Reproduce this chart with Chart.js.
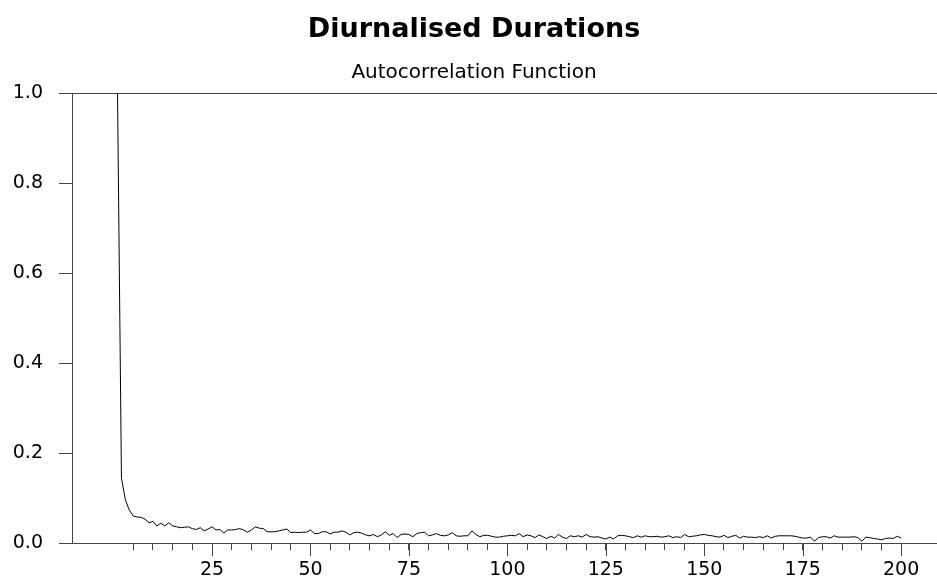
<!DOCTYPE html>
<html lang="en">
<head>
    <meta charset="UTF-8">
    <title>Diurnalised Durations</title>
    <script src="https://cdn.jsdelivr.net/npm/chart.js"></script>
    <style>
        body { margin: 0; background: #fff; }
        #wrap { width: 937px; height: 583px; }
    </style>
</head>
<body>
    <div id="wrap"><canvas id="chart"></canvas></div>

    <script>
        // autocorrelation by lag (lag 1 .. 200)
        var acf = [
            1.000, 0.144, 0.096, 0.073, 0.060, 0.058, 0.057, 0.053, 0.045, 0.048,
            0.038, 0.044, 0.038, 0.045, 0.038, 0.036, 0.034, 0.035, 0.036, 0.032,
            0.030, 0.034, 0.027, 0.031, 0.036, 0.029, 0.030, 0.022, 0.029, 0.029,
            0.030, 0.032, 0.029, 0.024, 0.029, 0.036, 0.033, 0.032, 0.025, 0.025,
            0.025, 0.027, 0.029, 0.031, 0.023, 0.024, 0.023, 0.024, 0.024, 0.029,
            0.021, 0.021, 0.025, 0.025, 0.020, 0.024, 0.024, 0.027, 0.024, 0.018,
            0.023, 0.024, 0.022, 0.018, 0.016, 0.019, 0.014, 0.018, 0.025, 0.017,
            0.021, 0.012, 0.019, 0.020, 0.019, 0.014, 0.021, 0.023, 0.024, 0.016,
            0.018, 0.021, 0.017, 0.016, 0.018, 0.023, 0.016, 0.015, 0.016, 0.016,
            0.027, 0.019, 0.014, 0.017, 0.017, 0.015, 0.013, 0.013, 0.015, 0.016,
            0.017, 0.016, 0.021, 0.014, 0.018, 0.016, 0.012, 0.018, 0.014, 0.010,
            0.015, 0.011, 0.019, 0.013, 0.010, 0.016, 0.014, 0.016, 0.013, 0.019,
            0.014, 0.013, 0.014, 0.011, 0.009, 0.013, 0.009, 0.016, 0.017, 0.016,
            0.014, 0.012, 0.016, 0.013, 0.016, 0.014, 0.014, 0.015, 0.013, 0.014,
            0.016, 0.012, 0.014, 0.012, 0.019, 0.014, 0.015, 0.016, 0.018, 0.019,
            0.017, 0.016, 0.014, 0.013, 0.017, 0.012, 0.015, 0.017, 0.011, 0.015,
            0.013, 0.013, 0.012, 0.014, 0.012, 0.016, 0.011, 0.015, 0.016, 0.016,
            0.016, 0.016, 0.015, 0.013, 0.011, 0.011, 0.013, 0.004, 0.012, 0.014,
            0.014, 0.011, 0.016, 0.013, 0.013, 0.013, 0.013, 0.014, 0.012, 0.004,
            0.013, 0.012, 0.010, 0.009, 0.007, 0.010, 0.011, 0.010, 0.015, 0.011
        ];
        var lags = acf.map(function (v, i) { return i + 1; });

        var yTicks = [0, 0.2, 0.4, 0.6, 0.8, 1.0];
        var xMajor = [25, 50, 75, 100, 125, 150, 175, 200];
        var xMinorStep = 5;

        var axisColor = '#444';
        Chart.defaults.font.family = 'DejaVu Sans';
        Chart.defaults.color = '#000';

        // the labelled x ticks are longer than the others
        var longTicks = {
            id: 'longTicks',
            afterDraw: function (chart) {
                var sx = chart.scales.x;
                var ctx = chart.ctx;
                ctx.save();
                ctx.strokeStyle = axisColor;
                ctx.lineWidth = 1;
                xMajor.forEach(function (v) {
                    var px = Math.round(sx.getPixelForValue(v)) + 0.5;
                    ctx.beginPath();
                    ctx.moveTo(px, sx.top);
                    ctx.lineTo(px, sx.top + 13);
                    ctx.stroke();
                });
                ctx.restore();
            }
        };

        var ctx = document.getElementById('chart').getContext('2d');
        var chart = new Chart(ctx, {
            type: 'line',
            data: {
                datasets: [{
                    data: lags.map(function (l, i) { return { x: l, y: acf[i] }; }),
                    borderColor: '#000',
                    borderWidth: 1,
                    pointRadius: 0,
                    tension: 0,
                    fill: false
                }]
            },
            options: {
                responsive: true,
                maintainAspectRatio: false,
                animation: false,
                layout: { padding: { left: 11, right: 0, top: 0, bottom: 0 } },
                plugins: {
                    legend: { display: false },
                    tooltip: { enabled: false },
                    title: {
                        display: true,
                        text: 'Diurnalised Durations',
                        color: '#000',
                        font: { size: 27, weight: 'bold' },
                        padding: { top: 14, bottom: 14 }
                    },
                    subtitle: {
                        display: true,
                        text: 'Autocorrelation Function',
                        color: '#000',
                        font: { size: 20 },
                        padding: { top: 0, bottom: 9 }
                    }
                },
                scales: {
                    x: {
                        type: 'linear',
                        min: -10.56,
                        max: 209.1,
                        afterBuildTicks: function (scale) {
                            var t = [];
                            for (var v = xMinorStep; v <= xMajor[xMajor.length - 1]; v += xMinorStep) {
                                t.push({ value: v });
                            }
                            scale.ticks = t;
                        },
                        afterFit: function (scale) { scale.height = 40; },
                        grid: {
                            drawOnChartArea: false,
                            tickLength: 7,
                            tickColor: axisColor
                        },
                        border: { display: true, color: axisColor, width: 1 },
                        ticks: {
                            autoSkip: false,
                            maxRotation: 0,
                            padding: 9,
                            font: { size: 19 },
                            callback: function (v) {
                                return xMajor.indexOf(v) >= 0 ? String(v) : '';
                            }
                        }
                    },
                    y: {
                        min: 0,
                        max: 1,
                        afterBuildTicks: function (scale) {
                            scale.ticks = yTicks.map(function (v) { return { value: v }; });
                        },
                        afterFit: function (scale) { scale.width = 61; },
                        grid: {
                            color: function (c) {
                                return c.tick && c.tick.value === 1 ? axisColor : 'rgba(0,0,0,0)';
                            },
                            tickColor: axisColor,
                            tickLength: 13
                        },
                        border: { display: true, color: axisColor, width: 1 },
                        ticks: {
                            padding: 16,
                            font: { size: 19 },
                            callback: function (v) { return v.toFixed(1); }
                        }
                    }
                }
            },
            plugins: [longTicks]
        });
    </script>
</body>
</html>
